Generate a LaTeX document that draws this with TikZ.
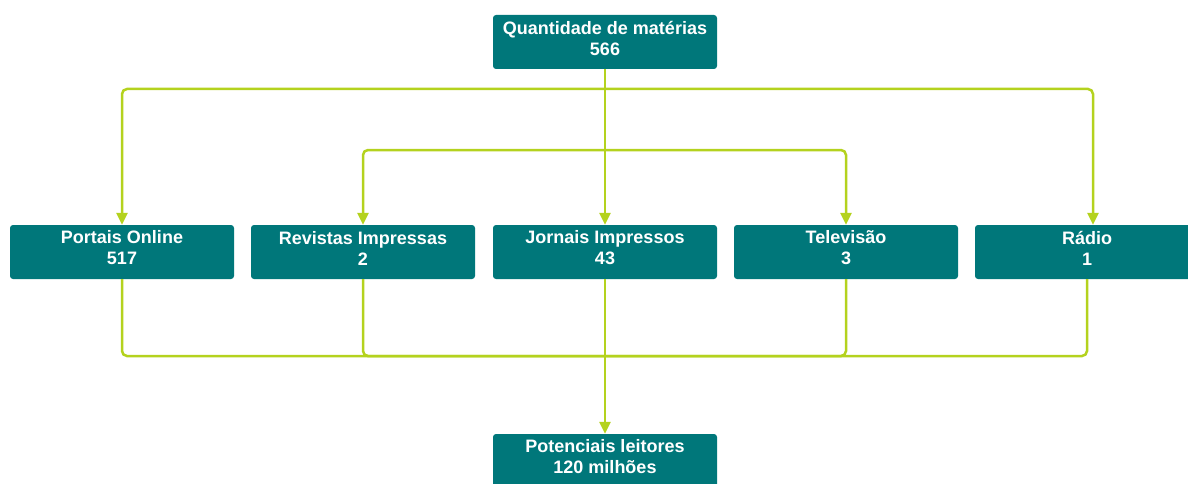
\documentclass[tikz,border=0pt]{standalone}
\usepackage{fontspec}
\setmainfont{Liberation Sans}
\usetikzlibrary{arrows.meta}
\definecolor{boxteal}{HTML}{00777A}
\definecolor{lime}{HTML}{B4D21E}
\tikzset{
  box/.style={fill=boxteal, draw=none, rounded corners=3pt, minimum width=224pt, minimum height=54pt, inner sep=0pt},
  lbl/.style={text=white, font=\fontsize{18}{21}\selectfont\bfseries, align=center, yshift=4pt},
  conn/.style={draw=lime, line width=2.5pt, rounded corners=5pt},
  arr/.style={conn, -{Triangle[length=12pt,width=11pt]}},
}
\begin{document}
\begin{tikzpicture}[x=1pt,y=-1pt]
\useasboundingbox (0,0) rectangle (1188,484);
\clip (0,0) rectangle (1188,484);
\node[box, label={[lbl]center:Quantidade de matérias\\566}] (top) at (605,42) {};
\node[box, label={[lbl]center:Portais Online\\517}] (portais) at (122,252) {};
\node[box, label={[lbl]center:Revistas Impressas\\2}] (revistas) at (363,252) {};
\node[box, label={[lbl]center:Jornais Impressos\\43}] (jornais) at (605,252) {};
\node[box, label={[lbl]center:Televisão\\3}] (tv) at (846,252) {};
\node[box, label={[lbl]center:Rádio\\1}] (radio) at (1087,252) {};
\node[box, label={[lbl]center:Potenciais leitores\\120 milhões}] (leitores) at (605,461) {};
\coordinate (j1) at (605,89);
\coordinate (j2) at (605,150);
\coordinate (j3) at (605,356);
% top connectors
\draw[arr] (top.south) -- (jornais.north);
\draw[arr] (j1) -| (portais.north);
\draw[arr] (j1) -| ([xshift=6pt]radio.north);
\draw[arr] (j2) -| (revistas.north);
\draw[arr] (j2) -| (tv.north);
% bottom connectors
\draw[conn] (portais.south) |- (j3);
\draw[conn] (revistas.south) |- (j3);
\draw[conn] (tv.south) |- (j3);
\draw[conn] (radio.south) |- (j3);
\draw[arr] (jornais.south) -- (leitores.north);
\end{tikzpicture}
\end{document}
